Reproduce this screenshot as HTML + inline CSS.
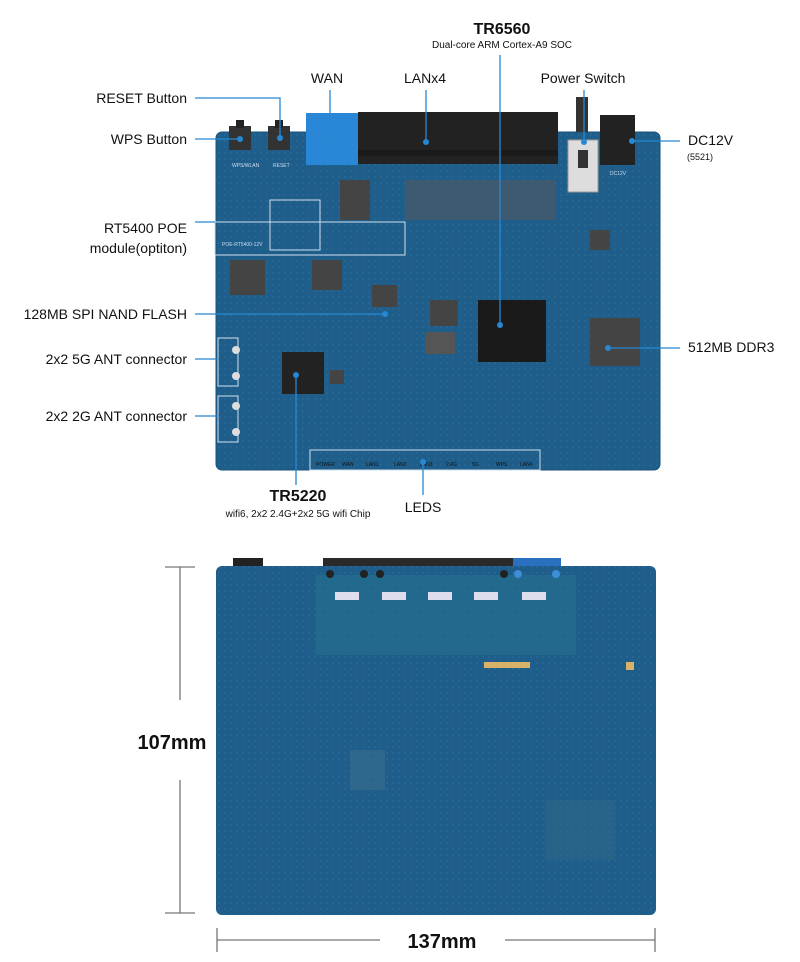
<!DOCTYPE html>
<html><head><meta charset="utf-8"><style>
body{margin:0;background:#fff;width:800px;height:962px;overflow:hidden}
svg{display:block}
text{font-family:"Liberation Sans",sans-serif;fill:#111}
</style></head><body>
<svg width="800" height="962" viewBox="0 0 800 962">
<defs>
<pattern id="dots" width="6" height="6" patternUnits="userSpaceOnUse"><rect width="6" height="6" fill="#1f5e8b"/><circle cx="3" cy="3" r="0.8" fill="#2c6f9c"/></pattern>
</defs>
<!-- TOP BOARD -->
<rect x="216" y="132" width="444" height="338" rx="6" fill="url(#dots)"/>
<rect x="216" y="132" width="444" height="338" rx="6" fill="none" stroke="#17527c"/>
<rect x="229" y="126" width="22" height="24" fill="#333"/><rect x="268" y="126" width="22" height="24" fill="#333"/>
<rect x="236" y="120" width="8" height="8" fill="#222"/><rect x="275" y="120" width="8" height="8" fill="#222"/>
<text x="232" y="167" font-size="5" style="fill:#cde">WPS/WLAN</text><text x="273" y="167" font-size="5" style="fill:#cde">RESET</text>
<rect x="306" y="113" width="52" height="52" fill="#2a86d6"/>
<rect x="358" y="112" width="200" height="52" fill="#222"/>
<rect x="358" y="150" width="200" height="6" fill="#1a1a1a"/>
<rect x="576" y="97" width="12" height="35" fill="#333"/>
<rect x="568" y="140" width="30" height="52" fill="#ddd" stroke="#999"/>
<rect x="578" y="150" width="10" height="18" fill="#333"/>
<rect x="600" y="115" width="35" height="50" fill="#222"/>
<text x="610" y="175" font-size="5" style="fill:#cde">DC12V</text>
<g fill="#444">
<rect x="340" y="180" width="30" height="40"/>
<rect x="405" y="180" width="150" height="40" fill="#3d5a70"/>
<rect x="230" y="260" width="35" height="35"/><rect x="312" y="260" width="30" height="30"/>
<rect x="372" y="285" width="25" height="22"/>
<rect x="430" y="300" width="28" height="26"/>
<rect x="425" y="332" width="30" height="22" fill="#555"/>
<rect x="478" y="300" width="68" height="62" fill="#1a1a1a"/>
<rect x="590" y="318" width="50" height="48"/>
<rect x="282" y="352" width="42" height="42" fill="#222"/>
<rect x="330" y="370" width="14" height="14"/>
<rect x="590" y="230" width="20" height="20"/>
</g>
<rect x="270" y="200" width="50" height="50" fill="none" stroke="#cfe0ee" stroke-width="1"/>
<rect x="215" y="222" width="190" height="33" fill="none" stroke="#cfe0ee" stroke-width="1"/>
<text x="222" y="246" font-size="5" style="fill:#cde">POE-RT5400-12V</text>
<rect x="310" y="450" width="230" height="20" fill="none" stroke="#cfe0ee"/>
<g font-size="5" style="fill:#cde"><text x="316" y="466">POWER</text><text x="342" y="466">WAN</text><text x="366" y="466">LAN1</text><text x="394" y="466">LAN2</text><text x="420" y="466">LAN3</text><text x="446" y="466">2.4G</text><text x="472" y="466">5G</text><text x="496" y="466">WPS</text><text x="520" y="466">LAN4</text></g>
<rect x="218" y="338" width="20" height="48" fill="none" stroke="#cfe0ee"/>
<rect x="218" y="396" width="20" height="46" fill="none" stroke="#cfe0ee"/>
<circle cx="236" cy="350" r="4" fill="#ddd"/><circle cx="236" cy="376" r="4" fill="#ddd"/>
<circle cx="236" cy="406" r="4" fill="#ddd"/><circle cx="236" cy="432" r="4" fill="#ddd"/>
<g stroke="#2688d2" stroke-width="1.3" fill="none">
<polyline points="195,98 280,98 280,138"/>
<line x1="195" y1="139" x2="240" y2="139"/>
<line x1="330" y1="90" x2="330" y2="138"/>
<line x1="426" y1="90" x2="426" y2="142"/>
<line x1="500" y1="55" x2="500" y2="325"/>
<line x1="584" y1="90" x2="584" y2="142"/>
<line x1="632" y1="141" x2="680" y2="141"/>
<line x1="195" y1="222" x2="215" y2="222"/>
<line x1="195" y1="314" x2="385" y2="314"/>
<line x1="195" y1="359" x2="218" y2="359"/>
<line x1="195" y1="416" x2="218" y2="416"/>
<line x1="608" y1="348" x2="680" y2="348"/>
<line x1="296" y1="375" x2="296" y2="485"/>
<line x1="423" y1="462" x2="423" y2="495"/>
</g>
<g fill="#2688d2">
<circle cx="280" cy="138" r="3"/><circle cx="240" cy="139" r="3"/><circle cx="330" cy="138" r="3"/><circle cx="426" cy="142" r="3"/>
<circle cx="500" cy="325" r="3"/><circle cx="584" cy="142" r="3"/><circle cx="632" cy="141" r="3"/><circle cx="385" cy="314" r="3"/>
<circle cx="608" cy="348" r="3"/><circle cx="296" cy="375" r="3"/><circle cx="423" cy="462" r="3"/>
</g>
<g font-size="14">
<text x="187" y="103" text-anchor="end">RESET Button</text>
<text x="187" y="144" text-anchor="end">WPS Button</text>
<text x="187" y="233" text-anchor="end">RT5400 POE</text>
<text x="187" y="253" text-anchor="end">module(optiton)</text>
<text x="187" y="319" text-anchor="end">128MB SPI NAND FLASH</text>
<text x="187" y="364" text-anchor="end">2x2 5G ANT connector</text>
<text x="187" y="421" text-anchor="end">2x2 2G ANT connector</text>
<text x="327" y="83" text-anchor="middle">WAN</text>
<text x="425" y="83" text-anchor="middle">LANx4</text>
<text x="583" y="83" text-anchor="middle">Power Switch</text>
<text x="688" y="145">DC12V</text>
<text x="688" y="352">512MB DDR3</text>
<text x="423" y="512" text-anchor="middle">LEDS</text>
</g>
<text x="700" y="160" font-size="9" text-anchor="middle">(5521)</text>
<text x="502" y="34" font-size="16" text-anchor="middle" font-weight="bold">TR6560</text>
<text x="502" y="48" font-size="10" text-anchor="middle">Dual-core ARM Cortex-A9 SOC</text>
<text x="298" y="501" font-size="16" text-anchor="middle" font-weight="bold">TR5220</text>
<text x="298" y="517" font-size="10" text-anchor="middle">wifi6, 2x2 2.4G+2x2 5G wifi Chip</text>
<!-- BOTTOM BOARD -->
<rect x="233" y="558" width="30" height="10" fill="#222"/>
<rect x="323" y="558" width="190" height="10" fill="#2a2a2a"/><rect x="513" y="558" width="48" height="10" fill="#2a70c0"/>
<rect x="216" y="566" width="440" height="349" rx="6" fill="url(#dots)"/>
<rect x="316" y="575" width="260" height="80" fill="#26708f" opacity="0.6"/>
<g fill="#222"><circle cx="330" cy="574" r="4"/><circle cx="364" cy="574" r="4"/><circle cx="380" cy="574" r="4"/><circle cx="504" cy="574" r="4"/></g>
<g fill="#3c8ed8"><circle cx="518" cy="574" r="4"/><circle cx="556" cy="574" r="4"/></g>
<g fill="#dde"><rect x="335" y="592" width="24" height="8"/><rect x="382" y="592" width="24" height="8"/><rect x="428" y="592" width="24" height="8"/><rect x="474" y="592" width="24" height="8"/><rect x="522" y="592" width="24" height="8"/></g>
<g fill="#d9b26a"><rect x="484" y="662" width="46" height="6"/><rect x="626" y="662" width="8" height="8"/></g>
<rect x="350" y="750" width="35" height="40" fill="#3a6d8c" opacity="0.6"/>
<rect x="545" y="800" width="70" height="60" fill="#2d6787" opacity="0.6"/>
<g stroke="#777" stroke-width="1.3">
<line x1="180" y1="567" x2="180" y2="700"/><line x1="180" y1="780" x2="180" y2="913"/>
<line x1="165" y1="567" x2="195" y2="567"/><line x1="165" y1="913" x2="195" y2="913"/>
<line x1="217" y1="940" x2="380" y2="940"/><line x1="505" y1="940" x2="655" y2="940"/>
<line x1="217" y1="928" x2="217" y2="952"/><line x1="655" y1="928" x2="655" y2="952"/>
</g>
<text x="172" y="749" font-size="20" text-anchor="middle" font-weight="bold">107mm</text>
<text x="442" y="948" font-size="20" text-anchor="middle" font-weight="bold">137mm</text>
</svg>
</body></html>
